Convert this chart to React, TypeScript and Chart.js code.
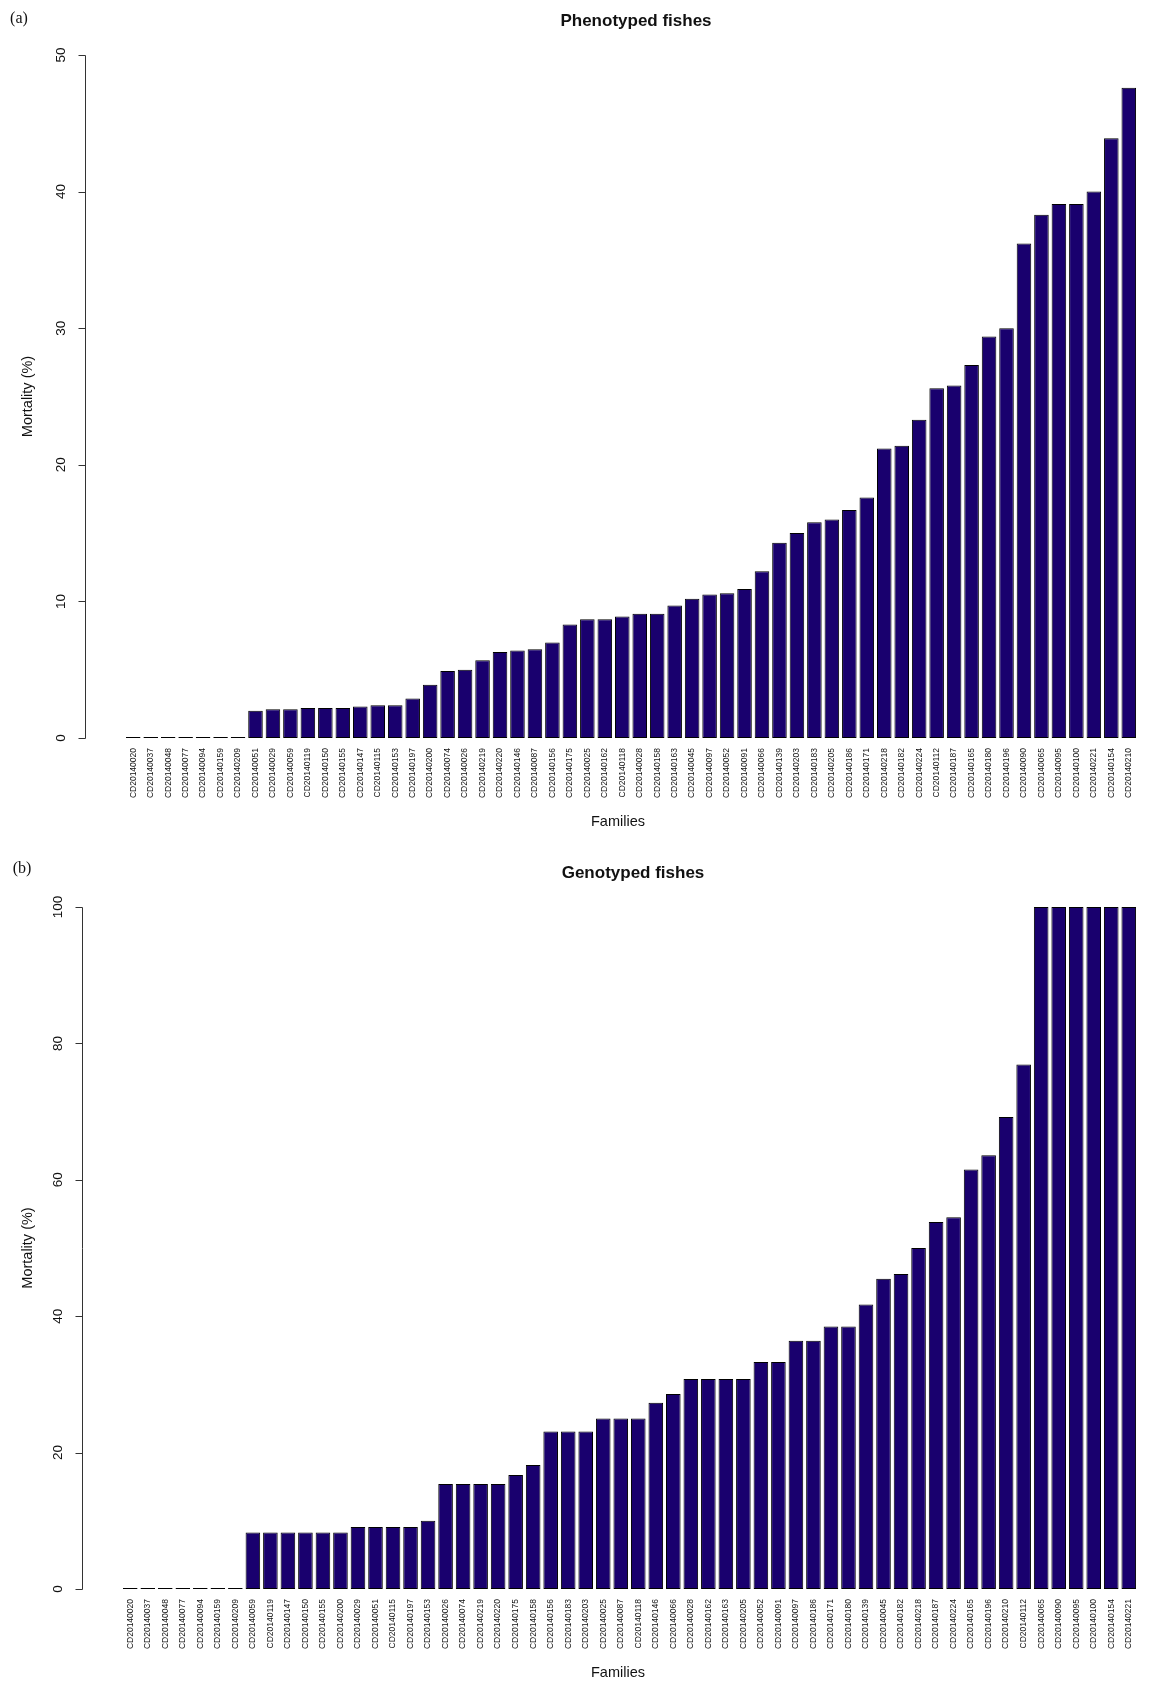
import React, { useEffect, useRef } from "react";
import { Chart, registerables } from "chart.js";

Chart.register(...registerables);

// ---------- data ----------
const phenoFamilies = [
  "CD20140020", "CD20140037", "CD20140048", "CD20140077", "CD20140094", "CD20140159",
  "CD20140209", "CD20140051", "CD20140029", "CD20140059", "CD20140119", "CD20140150",
  "CD20140155", "CD20140147", "CD20140115", "CD20140153", "CD20140197", "CD20140200",
  "CD20140074", "CD20140026", "CD20140219", "CD20140220", "CD20140146", "CD20140087",
  "CD20140156", "CD20140175", "CD20140025", "CD20140162", "CD20140118", "CD20140028",
  "CD20140158", "CD20140163", "CD20140045", "CD20140097", "CD20140052", "CD20140091",
  "CD20140066", "CD20140139", "CD20140203", "CD20140183", "CD20140205", "CD20140186",
  "CD20140171", "CD20140218", "CD20140182", "CD20140224", "CD20140112", "CD20140187",
  "CD20140165", "CD20140180", "CD20140196", "CD20140090", "CD20140065", "CD20140095",
  "CD20140100", "CD20140221", "CD20140154", "CD20140210",
];
const phenoMortality = [
  0, 0, 0, 0, 0, 0,
  0, 2.0, 2.1, 2.1, 2.2, 2.2,
  2.2, 2.3, 2.4, 2.4, 2.9, 3.9,
  4.9, 5.0, 5.7, 6.3, 6.4, 6.5,
  7.0, 8.3, 8.7, 8.7, 8.9, 9.1,
  9.1, 9.7, 10.2, 10.5, 10.6, 10.9,
  12.2, 14.3, 15.0, 15.8, 16.0, 16.7,
  17.6, 21.2, 21.4, 23.3, 25.6, 25.8,
  27.3, 29.4, 30.0, 36.2, 38.3, 39.1,
  39.1, 40.0, 43.9, 47.6,
];
const phenoYTicks = [0, 10, 20, 30, 40, 50];

const genoFamilies = [
  "CD20140020", "CD20140037", "CD20140048", "CD20140077", "CD20140094", "CD20140159",
  "CD20140209", "CD20140059", "CD20140119", "CD20140147", "CD20140150", "CD20140155",
  "CD20140200", "CD20140029", "CD20140051", "CD20140115", "CD20140197", "CD20140153",
  "CD20140026", "CD20140074", "CD20140219", "CD20140220", "CD20140175", "CD20140158",
  "CD20140156", "CD20140183", "CD20140203", "CD20140025", "CD20140087", "CD20140118",
  "CD20140146", "CD20140066", "CD20140028", "CD20140162", "CD20140163", "CD20140205",
  "CD20140052", "CD20140091", "CD20140097", "CD20140186", "CD20140171", "CD20140180",
  "CD20140139", "CD20140045", "CD20140182", "CD20140218", "CD20140187", "CD20140224",
  "CD20140165", "CD20140196", "CD20140210", "CD20140112", "CD20140065", "CD20140090",
  "CD20140095", "CD20140100", "CD20140154", "CD20140221",
];
const genoMortality = [
  0, 0, 0, 0, 0, 0,
  0, 8.3, 8.3, 8.3, 8.3, 8.3,
  8.3, 9.1, 9.1, 9.1, 9.1, 10.0,
  15.4, 15.4, 15.4, 15.4, 16.7, 18.2,
  23.1, 23.1, 23.1, 25.0, 25.0, 25.0,
  27.3, 28.6, 30.8, 30.8, 30.8, 30.8,
  33.3, 33.3, 36.4, 36.4, 38.5, 38.5,
  41.7, 45.5, 46.2, 50.0, 53.8, 54.5,
  61.5, 63.6, 69.2, 76.9, 100, 100,
  100, 100, 100, 100,
];
const genoYTicks = [0, 20, 40, 60, 80, 100];

// ---------- styling ----------
const SANS = "'Liberation Sans', Arial, Helvetica, sans-serif";
const SERIF = "'Liberation Serif', 'Times New Roman', serif";
const BAR_FILL = "#19006e";
const TEXT = "#111111";

type Geometry = {
  top: number;
  left: number;
  right: number;
  xScaleHeight: number;
  axisX: number;
  tickLabelX: number;
  titleX: number;
  tagX: number;
  tagY: number;
};

type PanelProps = {
  labels: string[];
  values: number[];
  yTicks: number[];
  title: string;
  tag: string;
  geo: Geometry;
};

const WIDTH = 1149;
const HEIGHT = 841;

function Panel({ labels, values, yTicks, title, tag, geo }: PanelProps) {
  const ref = useRef<HTMLCanvasElement | null>(null);

  useEffect(() => {
    const canvas = ref.current;
    if (!canvas) return;

    const decor = {
      id: "decor",
      afterDraw(chart: any) {
        const ctx: CanvasRenderingContext2D = chart.ctx;
        const ys = chart.scales.y;
        const area = chart.chartArea;
        ctx.save();

        // y axis line + ticks (R style)
        const yStart = ys.getPixelForValue(yTicks[0]);
        const yEnd = ys.getPixelForValue(yTicks[yTicks.length - 1]);
        const ax = Math.round(geo.axisX) + 0.5;
        ctx.strokeStyle = "#333333";
        ctx.lineWidth = 1;
        ctx.beginPath();
        ctx.moveTo(ax, Math.round(yStart) + 0.5);
        ctx.lineTo(ax, Math.round(yEnd) + 0.5);
        for (const t of yTicks) {
          const py = Math.round(ys.getPixelForValue(t)) + 0.5;
          ctx.moveTo(ax - 7, py);
          ctx.lineTo(ax, py);
        }
        ctx.stroke();

        // y tick labels rotated
        ctx.fillStyle = TEXT;
        ctx.font = `13.5px ${SANS}`;
        ctx.textAlign = "center";
        ctx.textBaseline = "middle";
        for (const t of yTicks) {
          ctx.save();
          ctx.translate(geo.tickLabelX, ys.getPixelForValue(t));
          ctx.rotate(-Math.PI / 2);
          ctx.fillText(String(t), 0, 0);
          ctx.restore();
        }

        // y axis title
        ctx.save();
        ctx.font = `14.5px ${SANS}`;
        ctx.translate(28, (area.top + area.bottom) / 2);
        ctx.rotate(-Math.PI / 2);
        ctx.fillText("Mortality (%)", 0, 0);
        ctx.restore();

        // x axis title
        ctx.font = `14.5px ${SANS}`;
        ctx.fillText("Families", 618, area.bottom + 84);

        // main title
        ctx.font = `bold 17px ${SANS}`;
        ctx.fillText(title, geo.titleX, area.top - 34);

        // panel tag
        ctx.font = `16px ${SERIF}`;
        ctx.fillText(tag, geo.tagX, geo.tagY);

        ctx.restore();
      },
    };

    const chart = new Chart(canvas, {
      type: "bar",
      data: {
        labels,
        datasets: [
          {
            data: values,
            backgroundColor: BAR_FILL,
            borderColor: "#000000",
            borderWidth: 1,
            borderSkipped: false,
            minBarLength: 1,
            categoryPercentage: 1,
            barPercentage: 1 / 1.2,
          },
        ],
      },
      options: {
        responsive: false,
        animation: false,
        devicePixelRatio: 1,
        layout: {
          padding: { top: geo.top, left: geo.left, right: WIDTH - geo.right, bottom: 0 },
        },
        plugins: {
          legend: { display: false },
          tooltip: { enabled: false },
          title: { display: false },
        },
        scales: {
          x: {
            type: "category",
            grid: { display: false, drawTicks: false },
            border: { display: false },
            ticks: {
              autoSkip: false,
              minRotation: 90,
              maxRotation: 90,
              padding: 10,
              color: TEXT,
              font: { family: SANS, size: 8.5 },
            },
            afterFit(scale: any) {
              scale.height = geo.xScaleHeight;
            },
          },
          y: {
            display: false,
            min: yTicks[0],
            max: yTicks[yTicks.length - 1],
          },
        },
      },
      plugins: [decor],
    });

    return () => chart.destroy();
  }, [labels, values, yTicks, title, tag, geo]);

  return <canvas ref={ref} width={WIDTH} height={HEIGHT} style={{ display: "block", width: WIDTH, height: HEIGHT }} />;
}

const topGeo: Geometry = {
  top: 55,
  left: 124.5,
  right: 1146.5,
  xScaleHeight: 103,
  axisX: 85,
  tickLabelX: 61.7,
  titleX: 636,
  tagX: 19,
  tagY: 19,
};

const bottomGeo: Geometry = {
  top: 66,
  left: 121.5,
  right: 1144.5,
  xScaleHeight: 93,
  axisX: 81.7,
  tickLabelX: 58.3,
  titleX: 633,
  tagX: 22,
  tagY: 28,
};

export default function App() {
  return (
    <div style={{ position: "absolute", left: 0, top: 0, width: WIDTH, height: HEIGHT * 2, background: "#ffffff" }}>
      <Panel
        labels={phenoFamilies}
        values={phenoMortality}
        yTicks={phenoYTicks}
        title="Phenotyped fishes"
        tag="(a)"
        geo={topGeo}
      />
      <Panel
        labels={genoFamilies}
        values={genoMortality}
        yTicks={genoYTicks}
        title="Genotyped fishes"
        tag="(b)"
        geo={bottomGeo}
      />
    </div>
  );
}
